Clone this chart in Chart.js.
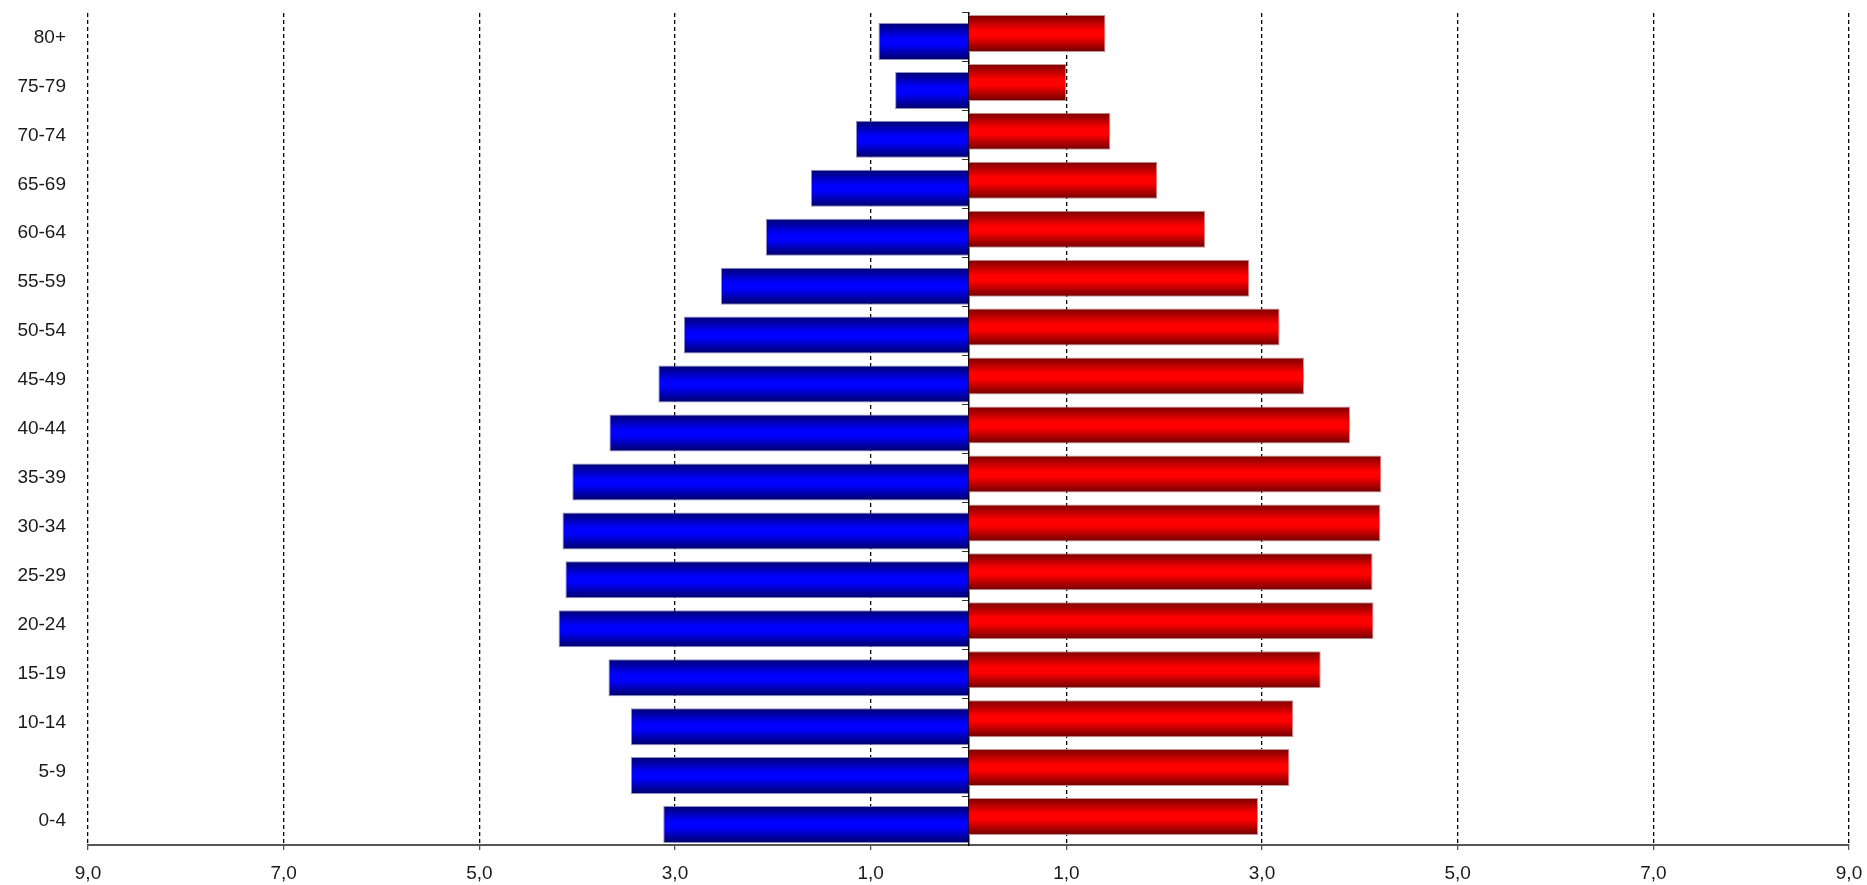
<!DOCTYPE html>
<html lang="pt">
<head>
  <meta charset="UTF-8">
  <title>Pirâmide etária</title>
  <script src="https://cdn.jsdelivr.net/npm/chart.js"></script>
  <style>
    body { margin: 0; background: #fff; }
    #chart-container { width: 1867px; height: 885px; }
  </style>
</head>
<body>
  <div id="chart-container">
    <canvas id="piramide"></canvas>
  </div>

  <script>
    // faixas etárias, de cima para baixo
    const faixas = ["80+", "75-79", "70-74", "65-69", "60-64", "55-59", "50-54", "45-49",
                    "40-44", "35-39", "30-34", "25-29", "20-24", "15-19", "10-14", "5-9", "0-4"];

    // percentuais (lado esquerdo / azul)
    const azul = [0.92, 0.75, 1.15, 1.61, 2.07, 2.53, 2.91, 3.17,
                  3.67, 4.05, 4.15, 4.12, 4.19, 3.68, 3.45, 3.45, 3.12];

    // percentuais do lado direito / vermelho
    const vermelho = [1.40, 1.00, 1.45, 1.93, 2.42, 2.87, 3.18, 3.43,
                      3.90, 4.22, 4.21, 4.13, 4.14, 3.60, 3.32, 3.28, 2.96];

    // marcas do eixo horizontal (lado esquerdo negativo)
    const marcasX = [-9, -7, -5, -3, -1, 1, 3, 5, 7, 9];

    // degradê vertical das barras
    const degradeVermelho = [[0, "#7a0000"], [0.42, "#ff0000"], [0.58, "#ff0000"], [1, "#6e0000"]];
    const degradeAzul = [[0, "#000070"], [0.42, "#0000ff"], [0.58, "#0000ff"], [1, "#000066"]];

    Chart.defaults.font.family = "'Liberation Sans', Arial, sans-serif";
    Chart.defaults.font.size = 19;
    Chart.defaults.color = "#1a1a1a";

    // aplica o degradê em cada barra já posicionada
    const pluginDegrade = {
      id: "degrade",
      beforeDatasetsDraw(chart) {
        const ctx = chart.ctx;
        chart.data.datasets.forEach((ds, i) => {
          chart.getDatasetMeta(i).data.forEach(bar => {
            const topo = bar.y - bar.height / 2;
            const g = ctx.createLinearGradient(0, topo, 0, topo + bar.height);
            ds.degrade.forEach(([pos, cor]) => g.addColorStop(pos, cor));
            bar.options = Object.assign({}, bar.options, { backgroundColor: g });
          });
        });
      }
    };

    const formatarTick = v => Math.abs(v).toFixed(1).replace(".", ",");

    // os eixos não devem empurrar a área do gráfico
    const semFolga = s => { s.paddingTop = 0; s.paddingBottom = 0; s.paddingLeft = 0; s.paddingRight = 0; };

    new Chart(document.getElementById("piramide"), {
      type: "bar",
      data: {
        labels: faixas,
        datasets: [
          {
            data: vermelho,
            degrade: degradeVermelho,
            backgroundColor: "#ff0000",
            borderColor: "rgba(190,140,140,0.9)",
            borderWidth: 1,
            xAxisID: "x",
            yAxisID: "y"
          },
          {
            data: azul.map(v => -v),
            degrade: degradeAzul,
            backgroundColor: "#0000ff",
            borderColor: "rgba(130,130,190,0.9)",
            borderWidth: 1,
            xAxisID: "x",
            yAxisID: "y"
          }
        ]
      },
      options: {
        indexAxis: "y",
        responsive: true,
        maintainAspectRatio: false,
        animation: false,
        events: [],
        // barras se sobrepõem com pequeno deslocamento vertical
        categoryPercentage: 0.327,
        barPercentage: 4.625,
        layout: { padding: { top: 13, right: 18, left: 0, bottom: 0 } },
        plugins: {
          legend: { display: false },
          tooltip: { enabled: false }
        },
        scales: {
          x: {
            type: "linear",
            min: -9,
            max: 9,
            afterBuildTicks: s => { s.ticks = marcasX.map(v => ({ value: v })); },
            afterFit: s => { s.height = 40; semFolga(s); },
            grid: { color: "#000", lineWidth: 1.3, tickLength: 5, tickColor: "#555" },
            border: { display: true, color: "#555", width: 2, dash: [4, 3] },
            ticks: { padding: 12, maxRotation: 0, autoSkip: false, callback: formatarTick }
          },
          y: {
            type: "category",
            position: { x: 0 },
            offset: true,
            z: 1,
            afterFit: semFolga,
            grid: { offset: true, drawOnChartArea: false, tickLength: 6, tickColor: "#333" },
            border: { color: "#000", width: 1.5 },
            ticks: { display: false }
          },
          yl: {
            type: "category",
            axis: "y",
            position: "left",
            offset: true,
            afterFit: s => { s.width = 88; semFolga(s); },
            grid: { display: false, drawTicks: false },
            border: { display: false },
            ticks: { padding: 22, autoSkip: false }
          }
        }
      },
      plugins: [pluginDegrade]
    });
  </script>
</body>
</html>
